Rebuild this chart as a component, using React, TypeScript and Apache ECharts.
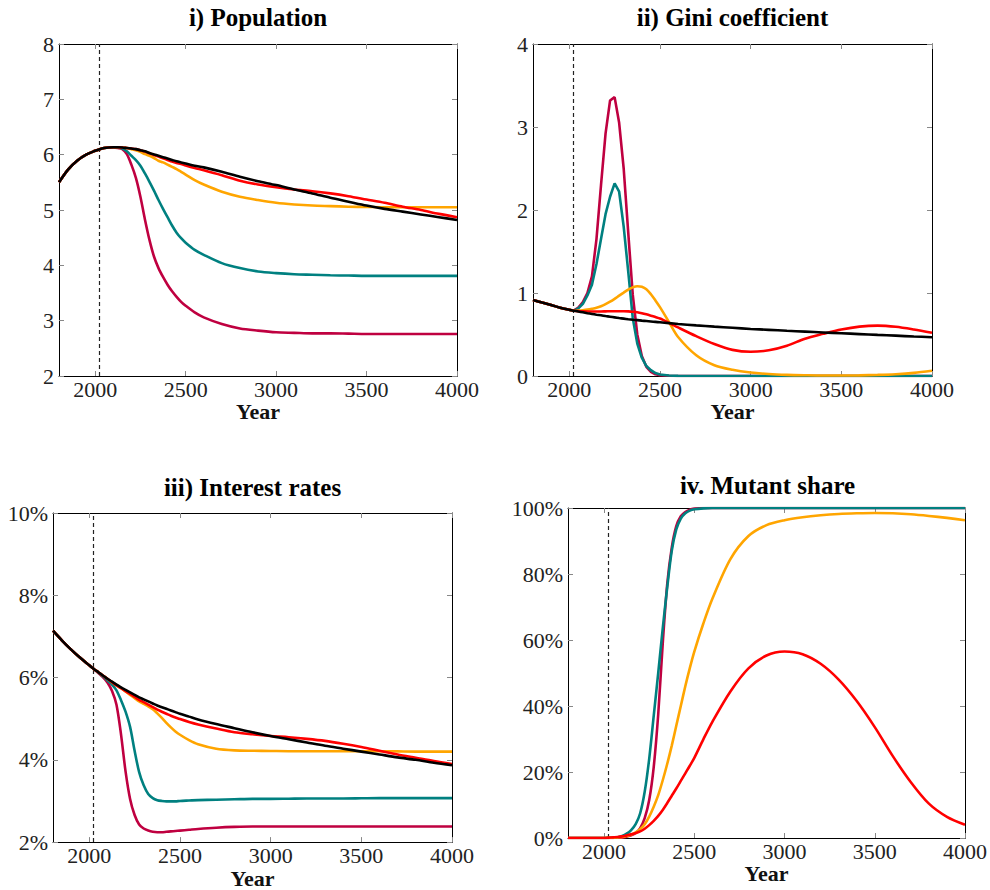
import React, { useEffect, useRef } from "react";
import * as echarts from "echarts";

const years = [1800,1850,1900,1950,2000,2025,2050,2075,2100,2125,2150,2175,2200,2225,2250,2275,2300,2325,2350,2375,2400,2425,2450,2475,2500,2550,2600,2700,2800,2900,3000,3100,3200,3300,3400,3500,3600,3700,3800,3900,4000];
const xTicks = [2000, 2500, 3000, 3500, 4000];
const policyYear = 2024;

// i) Population
const popPurple = [5.50,5.73,5.89,6.00,6.07,6.10,6.12,6.13,6.13,6.12,6.10,6.01,5.82,5.58,5.24,4.83,4.46,4.16,3.95,3.79,3.65,3.53,3.43,3.34,3.27,3.15,3.06,2.94,2.86,2.82,2.79,2.78,2.77,2.77,2.765,2.76,2.76,2.76,2.76,2.76,2.76];
const popTeal = [5.50,5.73,5.89,6.00,6.07,6.10,6.12,6.13,6.13,6.13,6.11,6.06,5.98,5.90,5.80,5.66,5.51,5.35,5.18,5.02,4.87,4.72,4.59,4.49,4.41,4.28,4.19,4.04,3.95,3.89,3.86,3.84,3.83,3.82,3.815,3.81,3.81,3.81,3.81,3.81,3.81];
const popOrange = [5.50,5.73,5.89,6.00,6.07,6.10,6.12,6.13,6.135,6.135,6.13,6.12,6.10,6.08,6.05,6.01,5.98,5.94,5.89,5.86,5.82,5.78,5.74,5.69,5.64,5.54,5.46,5.33,5.24,5.18,5.13,5.10,5.08,5.07,5.06,5.055,5.05,5.05,5.05,5.05,5.05];
const popRed = [5.50,5.73,5.89,6.00,6.07,6.10,6.12,6.13,6.135,6.135,6.13,6.12,6.11,6.10,6.08,6.055,6.025,5.995,5.965,5.935,5.905,5.875,5.85,5.83,5.805,5.76,5.72,5.63,5.53,5.46,5.41,5.37,5.34,5.30,5.25,5.19,5.13,5.06,5.00,4.93,4.87];
const popBlack = [5.50,5.73,5.89,6.00,6.07,6.10,6.12,6.13,6.135,6.135,6.13,6.12,6.11,6.10,6.08,6.06,6.03,6.005,5.98,5.955,5.93,5.905,5.88,5.86,5.84,5.80,5.77,5.69,5.60,5.52,5.45,5.37,5.30,5.22,5.15,5.08,5.02,4.97,4.92,4.87,4.82];

// ii) Gini coefficient
const giniPurple = [0.915,0.885,0.855,0.823,0.797,0.787,0.825,0.89,1.00,1.20,1.65,2.30,2.92,3.32,3.36,3.05,2.50,1.73,0.98,0.50,0.24,0.11,0.05,0.02,0.01,0.003,0,0,0,0,0,0,0,0,0,0,0,0,0,0,0];
const giniTeal = [0.915,0.885,0.855,0.823,0.797,0.787,0.815,0.87,0.97,1.10,1.35,1.65,1.95,2.16,2.32,2.22,1.80,1.26,0.70,0.39,0.22,0.12,0.07,0.035,0.018,0.006,0.002,0,0,0,0,0,0,0,0,0,0,0,0,0,0];
const giniOrange = [0.915,0.885,0.855,0.823,0.797,0.787,0.788,0.793,0.800,0.810,0.822,0.840,0.865,0.895,0.930,0.968,1.005,1.042,1.068,1.082,1.075,1.045,0.985,0.910,0.830,0.650,0.470,0.250,0.130,0.075,0.042,0.024,0.014,0.009,0.006,0.006,0.008,0.013,0.022,0.038,0.064];
const giniRed = [0.915,0.885,0.855,0.823,0.797,0.787,0.782,0.779,0.778,0.778,0.778,0.778,0.779,0.780,0.781,0.781,0.781,0.779,0.775,0.768,0.757,0.743,0.727,0.710,0.692,0.640,0.585,0.480,0.385,0.315,0.292,0.310,0.365,0.450,0.508,0.560,0.595,0.607,0.593,0.560,0.520];
const giniBlack = [0.915,0.885,0.855,0.823,0.797,0.787,0.777,0.767,0.757,0.748,0.739,0.731,0.722,0.714,0.706,0.698,0.691,0.684,0.678,0.673,0.667,0.662,0.657,0.652,0.647,0.637,0.627,0.610,0.595,0.581,0.567,0.556,0.545,0.535,0.525,0.515,0.505,0.495,0.486,0.476,0.467];

// iii) Interest rates (%)
const intPurple = [7.14,6.90,6.68,6.48,6.30,6.21,6.11,6.01,5.88,5.68,5.34,4.62,3.72,3.05,2.66,2.43,2.33,2.28,2.25,2.24,2.24,2.25,2.26,2.27,2.28,2.30,2.32,2.35,2.37,2.38,2.38,2.38,2.38,2.38,2.38,2.38,2.38,2.38,2.38,2.38,2.38];
const intTeal = [7.14,6.90,6.68,6.48,6.30,6.21,6.12,6.03,5.93,5.83,5.69,5.45,5.17,4.80,4.22,3.70,3.38,3.17,3.07,3.02,3.00,2.99,2.99,2.99,3.00,3.01,3.02,3.03,3.04,3.05,3.05,3.055,3.06,3.06,3.06,3.065,3.07,3.07,3.07,3.07,3.07];
const intOrange = [7.14,6.90,6.68,6.48,6.30,6.21,6.13,6.05,5.97,5.89,5.81,5.74,5.66,5.58,5.50,5.42,5.36,5.30,5.23,5.13,5.02,4.90,4.79,4.69,4.61,4.48,4.38,4.27,4.23,4.22,4.215,4.21,4.21,4.21,4.21,4.21,4.21,4.205,4.20,4.20,4.20];
const intRed = [7.14,6.90,6.68,6.48,6.30,6.21,6.13,6.05,5.97,5.89,5.81,5.74,5.67,5.60,5.53,5.46,5.40,5.34,5.28,5.22,5.17,5.12,5.07,5.03,4.99,4.92,4.86,4.76,4.67,4.62,4.58,4.55,4.51,4.46,4.39,4.31,4.22,4.13,4.05,3.97,3.90];
const intBlack = [7.14,6.90,6.68,6.48,6.30,6.21,6.13,6.05,5.97,5.90,5.83,5.76,5.70,5.64,5.58,5.52,5.47,5.42,5.37,5.32,5.28,5.24,5.20,5.16,5.12,5.05,4.98,4.87,4.77,4.67,4.58,4.50,4.42,4.34,4.27,4.20,4.13,4.06,4.00,3.93,3.87];

// iv. Mutant share (%)
const mutPurple = [0,0,0,0,0,0,0.05,0.1,0.1,0.4,0.8,1.5,3.0,6.0,11.5,21.5,37.5,59.0,77.0,88.0,94.5,97.5,98.8,99.5,99.8,100,100,100,100,100,100,100,100,100,100,100,100,100,100,100,100];
const mutTeal = [0,0,0,0,0,0.05,0.1,0.2,0.6,1.3,2.4,4.2,7.5,14.0,24.0,37.0,50.0,63.5,76.0,87.0,93.5,96.8,98.4,99.2,99.6,99.9,100,100,100,100,100,100,100,100,100,100,100,100,100,100,100];
const mutOrange = [0,0,0,0,0,0.05,0.1,0.2,0.3,0.6,1.0,1.7,2.7,4.2,6.5,9.5,13.0,17.5,22.5,28.0,34.0,40.0,46.0,51.5,56.5,65.0,72.5,84.5,91.5,94.8,96.3,97.2,97.8,98.2,98.4,98.5,98.4,98.1,97.6,97.0,96.3];
const mutRed = [0,0,0,0,0,0.1,0.2,0.3,0.5,0.8,1.1,1.5,2.0,2.8,3.9,5.2,6.7,8.5,10.6,12.8,15.0,17.3,19.6,21.9,24.3,29.9,35.2,44.4,51.4,55.3,56.5,55.7,52.8,48.0,41.5,33.6,24.8,16.9,10.4,6.4,4.0];

const titles = ["i) Population", "ii) Gini coefficient", "iii) Interest rates", "iv. Mutant share"];

const COLORS = { purple: "#BF0040", teal: "#008080", orange: "#FFA500", red: "#FF0000", black: "#000000" };
const FONT = "Liberation Serif";

type Panel = {
  grid: { left: number; top: number; width: number; height: number };
  yMin: number; yMax: number; yInterval: number; pct: boolean;
  series: { color: string; data: number[]; smooth: boolean }[];
  titleY: number;
};

const panels: Panel[] = [
  {
    grid: { left: 59, top: 44, width: 398, height: 332 }, yMin: 2, yMax: 8, yInterval: 1, pct: false, titleY: 17,
    series: [
      { color: COLORS.purple, data: popPurple, smooth: true },
      { color: COLORS.teal, data: popTeal, smooth: true },
      { color: COLORS.orange, data: popOrange, smooth: true },
      { color: COLORS.red, data: popRed, smooth: true },
      { color: COLORS.black, data: popBlack, smooth: true },
    ],
  },
  {
    grid: { left: 533, top: 44, width: 399, height: 332 }, yMin: 0, yMax: 4, yInterval: 1, pct: false, titleY: 17,
    series: [
      { color: COLORS.purple, data: giniPurple, smooth: false },
      { color: COLORS.teal, data: giniTeal, smooth: false },
      { color: COLORS.orange, data: giniOrange, smooth: true },
      { color: COLORS.red, data: giniRed, smooth: true },
      { color: COLORS.black, data: giniBlack, smooth: true },
    ],
  },
  {
    grid: { left: 53, top: 513, width: 399, height: 332 }, yMin: 2, yMax: 10, yInterval: 2, pct: true, titleY: 487,
    series: [
      { color: COLORS.purple, data: intPurple, smooth: true },
      { color: COLORS.teal, data: intTeal, smooth: true },
      { color: COLORS.orange, data: intOrange, smooth: true },
      { color: COLORS.red, data: intRed, smooth: true },
      { color: COLORS.black, data: intBlack, smooth: true },
    ],
  },
  {
    grid: { left: 568, top: 508, width: 399, height: 330 }, yMin: 0, yMax: 100, yInterval: 20, pct: true, titleY: 485,
    series: [
      { color: COLORS.purple, data: mutPurple, smooth: true },
      { color: COLORS.teal, data: mutTeal, smooth: true },
      { color: COLORS.orange, data: mutOrange, smooth: true },
      { color: COLORS.red, data: mutRed, smooth: true },
    ],
  },
];

function buildOption() {
  const grid: any[] = [];
  const xAxis: any[] = [];
  const yAxis: any[] = [];
  const series: any[] = [];
  const graphic: any[] = [];
  const labelStyle = { fontFamily: FONT, fontSize: 22, color: "#222" };
  const tickStyle = { show: true, inside: true, length: 5, lineStyle: { color: "#888", width: 1 } };
  const lineStyle = { show: true, onZero: false, lineStyle: { color: "#000", width: 1 } };

  panels.forEach((p, i) => {
    grid.push({ ...p.grid, containLabel: false });
    xAxis.push({
      gridIndex: i, type: "value", min: 1800, max: 4000, position: "bottom",
      axisLine: lineStyle,
      axisTick: { ...tickStyle, customValues: xTicks },
      axisLabel: { ...labelStyle, margin: 2, customValues: xTicks, formatter: (v: number) => String(v) },
      splitLine: { show: false },
      name: "Year", nameLocation: "middle", nameGap: 23,
      nameTextStyle: { fontFamily: FONT, fontSize: 22, fontWeight: "bold", color: "#111" },
    });
    xAxis.push({
      gridIndex: i, type: "value", min: 1800, max: 4000, position: "top",
      axisLine: lineStyle,
      axisTick: { ...tickStyle, customValues: xTicks },
      axisLabel: { show: false },
      splitLine: { show: false },
    });
    yAxis.push({
      gridIndex: i, type: "value", min: p.yMin, max: p.yMax, interval: p.yInterval, position: "left",
      axisLine: lineStyle,
      axisTick: tickStyle,
      axisLabel: { ...labelStyle, margin: 5, formatter: p.pct ? "{value}%" : "{value}" },
      splitLine: { show: false },
    });
    yAxis.push({
      gridIndex: i, type: "value", min: p.yMin, max: p.yMax, interval: p.yInterval, position: "right",
      axisLine: lineStyle,
      axisTick: tickStyle,
      axisLabel: { show: false },
      splitLine: { show: false },
    });
    p.series.forEach((s, k) => {
      const ser: any = {
        type: "line", xAxisIndex: i * 2, yAxisIndex: i * 2,
        data: years.map((y, j) => [y, s.data[j]]),
        showSymbol: false, symbol: "none",
        smooth: s.smooth ? 0.3 : false,
        lineStyle: { color: s.color, width: 2.6 },
        itemStyle: { color: s.color },
        z: 3 + k,
      };
      if (k === 0) {
        ser.markLine = {
          silent: true, symbol: "none", animation: false,
          label: { show: false },
          lineStyle: { type: [4, 3], color: "#222", width: 1.2 },
          data: [{ xAxis: policyYear }],
        };
      }
      series.push(ser);
    });
    graphic.push({
      type: "text",
      x: p.grid.left + p.grid.width / 2,
      y: p.titleY,
      style: {
        text: titles[i], fontFamily: FONT, fontSize: 25, fontWeight: "bold",
        fill: "#000", textAlign: "center", textVerticalAlign: "middle",
      },
    });
  });

  return { animation: false, backgroundColor: "#fff", grid, xAxis, yAxis, series, graphic };
}

export default function App() {
  const ref = useRef<HTMLDivElement>(null);
  useEffect(() => {
    if (!ref.current) return;
    const chart = echarts.init(ref.current, undefined, { renderer: "svg" });
    chart.setOption(buildOption() as any);
    return () => chart.dispose();
  }, []);
  return (
    <div
      ref={ref}
      style={{ position: "absolute", left: 0, top: 0, width: 990, height: 890, background: "#fff" }}
    />
  );
}
